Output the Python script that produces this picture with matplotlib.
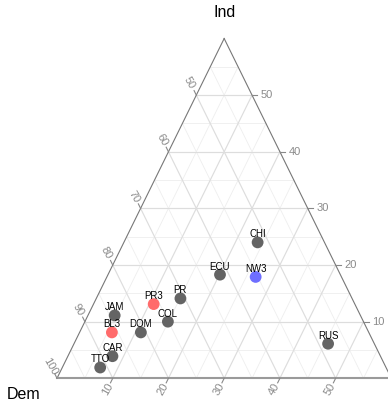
import numpy as np
import matplotlib
matplotlib.use('Agg')
import matplotlib.pyplot as plt

plt.rcParams['font.family'] = ['Liberation Sans', 'DejaVu Sans']

# country shares (percent): Dem + Ind + Oth = 100
countries = ['CHI', 'ECU', 'NW3', 'PR', 'PR3', 'COL', 'JAM', 'BL3', 'DOM', 'CAR', 'TTO', 'RUS']
ind = [24.0, 18.3, 17.9, 14.1, 13.1, 10.0, 11.1, 8.1, 8.1, 3.9, 1.9, 6.1]
oth = [24.0, 20.1, 26.7, 15.1, 10.8, 14.9, 4.8, 5.8, 11.0, 8.0, 6.8, 45.6]
dem = [100 - a - b for a, b in zip(ind, oth)]
group = ['obs', 'obs', 'nw', 'obs', 'pr', 'obs', 'obs', 'pr', 'obs', 'obs', 'obs', 'obs']
group_colors = {'obs': '#646464', 'pr': '#ff6b6b', 'nw': '#6e6eff'}

# zoomed ternary window: Dem 40..100, Ind 0..60, Oth 0..60
lim = 60
major = [10, 20, 30, 40, 50]
minor = [5, 15, 25, 35, 45, 55]
dem_ticks = [50, 60, 70, 80, 90, 100]


def tern(i, r):
    ''' ternary (Ind, Oth) -> cartesian '''
    i = np.asarray(i, dtype=float)
    r = np.asarray(r, dtype=float)
    return r + i / 2.0, i


fig = plt.figure(figsize=(3.88, 4.04), dpi=100)
ax = fig.add_axes([0, 0, 1, 1])
ax.set_xlim(-10.23, 59.4)
ax.set_ylim(-4.54, 66.8)
ax.axis('off')

# grid
for vals, col, lw in [(minor, '#eeeeee', 0.6), (major, '#dddddd', 0.85)]:
    for v in vals:
        # constant Ind
        x, y = tern([v, v], [0, lim - v])
        ax.plot(x, y, color=col, lw=lw, zorder=1)
        # constant Oth
        x, y = tern([0, lim - v], [v, v])
        ax.plot(x, y, color=col, lw=lw, zorder=1)
        # constant Dem
        x, y = tern([0, v], [v, 0])
        ax.plot(x, y, color=col, lw=lw, zorder=1)

# triangle edges
x, y = tern([0, lim], [0, 0])
ax.plot(x, y, color='#777777', lw=0.8, zorder=2)
x, y = tern([lim, 0], [0, lim])
ax.plot(x, y, color='#777777', lw=0.8, zorder=2)
x, y = tern([0, 0], [0, lim + 5])
ax.plot(x, y, color='#9a9a9a', lw=1.5, zorder=2)

tick_col = '#888888'
tcol = '#8a8a8a'
# Ind ticks (right edge)
for v in major:
    x, y = tern(v, lim - v)
    ax.plot([x, x + 0.95], [y, y], color=tick_col, lw=0.8, zorder=2)
    ax.annotate(str(v), (x, y), xytext=(6.2, 0), textcoords='offset points',
                ha='left', va='center', fontsize=8, color=tcol)
# Oth ticks (bottom edge)
for v in major:
    x, y = tern(0, v)
    ax.plot([x, x - 0.4], [y, y - 0.8], color=tick_col, lw=0.8, zorder=2)
    ax.annotate(str(v), (x, y), xytext=(-3.8, -7.6), textcoords='offset points',
                ha='center', va='center', fontsize=8, color=tcol, rotation=60)
# Dem ticks (left edge)
for d in dem_ticks:
    x, y = tern(100 - d, 0)
    ax.plot([x, x - 0.4], [y, y + 0.8], color=tick_col, lw=0.8, zorder=2)
    ax.annotate(str(d), (x, y), xytext=(-4.9, 8.6), textcoords='offset points',
                ha='center', va='center', fontsize=8, color=tcol, rotation=-60)

# vertex titles
x, y = tern(lim, 0)
ax.annotate('Ind', (x, y), xytext=(0, 18.5), textcoords='offset points',
            ha='center', va='center', fontsize=11.5)
x, y = tern(0, 0)
ax.annotate('Dem', (x, y), xytext=(-24, -11.5), textcoords='offset points',
            ha='center', va='center', fontsize=11.5)

# points and labels
px, py = tern(ind, oth)
cols = [group_colors[g] for g in group]
ax.scatter(px, py, s=72, c=cols, edgecolors='none', zorder=3)
for name, xx, yy in zip(countries, px, py):
    ax.annotate(name, (xx, yy), xytext=(0, 5.8), textcoords='offset points',
                ha='center', va='center', fontsize=7, color='black', zorder=4)

plt.savefig('out.png', dpi=100)
